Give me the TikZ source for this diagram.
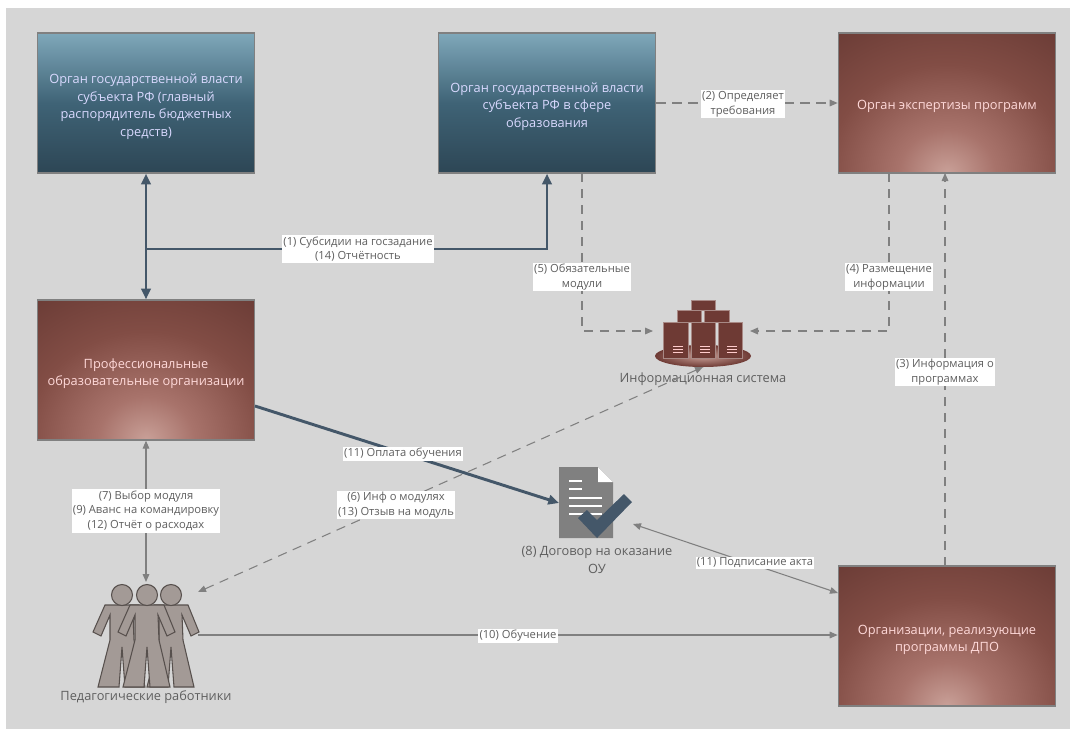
\documentclass[tikz,border=0pt]{standalone}
\usepackage{fontspec}
\setmainfont{Open Sans}
\usetikzlibrary{arrows.meta,calc,shadings}
\definecolor{bggrey}{HTML}{D6D6D6}
\definecolor{slateline}{HTML}{445769}
\definecolor{greyline}{HTML}{808080}
\definecolor{labelgrey}{HTML}{5F5F5F}
\definecolor{iconbrown}{HTML}{6E3A34}
\definecolor{bluetop}{HTML}{7FA8BA}
\definecolor{bluemid}{HTML}{3F6376}
\definecolor{bluelow}{HTML}{2D4655}
\definecolor{glowa}{HTML}{C9A098}
\definecolor{glowb}{HTML}{A8736B}
\definecolor{glowc}{HTML}{824D45}
\definecolor{glowd}{HTML}{6B3C36}
\definecolor{glowe}{HTML}{5E3530}
\definecolor{glowf}{HTML}{4C2B27}
\definecolor{personfill}{HTML}{A39A96}
\definecolor{personline}{HTML}{57504D}
\newcommand{\topgap}{\mbox{}\\[-0.6pt]}
\pgfdeclareverticalshading{bluebox}{100bp}{color(0bp)=(bluelow);color(25bp)=(bluelow);color(50bp)=(bluemid);color(75bp)=(bluetop);color(100bp)=(bluetop)}
\pgfdeclareradialshading{brownglow}{\pgfpoint{0bp}{0bp}}{color(0bp)=(glowa);color(6bp)=(glowb);color(15bp)=(glowc);color(24bp)=(glowd);color(27bp)=(glowe);color(31bp)=(glowf);color(50bp)=(glowf)}
\tikzset{
  orgbox/.style={draw=greyline,line width=1pt,minimum width=163pt,minimum height=105pt,align=center,font=\fontsize{9.6}{13.2}\selectfont},
  blueorg/.style={orgbox,text=white!85!blue,shading=bluebox},
  brownorg/.style={orgbox,text=white!85!red,path picture={\shade[shading=brownglow] (path picture bounding box.south) ellipse (150pt and 136pt);}},
  flowlabel/.style={fill=white,inner sep=1pt,text=labelgrey,align=center,font=\fontsize{8.4}{11}\selectfont},
  caption/.style={text=labelgrey,align=center,font=\fontsize{9.6}{13}\selectfont},
  thickflow/.style={draw=slateline,line width=2.2pt,-{Triangle[length=8pt,width=7pt]}},
  greyflow/.style={draw=greyline,line width=0.8pt,-{Triangle[length=6pt,width=5pt]}},
  dashflow/.style={greyflow,dash pattern=on 7pt off 5pt},
}
\begin{document}
\begin{tikzpicture}[x=0.75pt,y=-0.75pt]
\useasboundingbox (0,0) rectangle (1070,729);
\fill[bggrey] (6,8) rectangle (1070,729);
% organisations
\node[blueorg] (head) at (146,103) {\topgap Орган государственной власти\\субъекта РФ (главный\\распорядитель бюджетных\\средств)};
\node[blueorg] (dept) at (547,103) {\topgap Орган государственной власти\\субъекта РФ в сфере\\образования};
\node[brownorg] (expert) at (947,103) {\topgap Орган экспертизы программ};
\node[brownorg] (school) at (146,370) {\topgap Профессиональные\\образовательные организации};
\node[brownorg] (dpo) at (947,636) {\topgap Организации, реализующие\\программы ДПО};
% information system
\shade[inner color=glowa,outer color=iconbrown] (703,356) ellipse (48 and 11);
\foreach \x/\y/\w/\h in {691/300/24/10,677/310/24/12,704/310/25/12,663/322/25/36,691/322/24/36,718/322/24/36}
  \draw[fill=iconbrown,draw=iconbrown!60!white] (\x,\y) rectangle ++(\w,\h);
\foreach \x in {678,705,732}
  \foreach \y in {346,349,352}
    \draw[white!80!red,line width=0.7pt] (\x-5,\y) -- (\x+5,\y);
\node[caption] (infocap) at (703,379) {Информационная система};
\coordinate (infoleft) at (653,331);
\coordinate (inforight) at (750,331);
\coordinate (infobottom) at (703,367);
% contract
\fill[greyline] (559,467) -- (598,467) -- (613,482) -- (613,538) -- (559,538) -- cycle;
\fill[white] (598,467) -- (613,482) -- (598,482) -- cycle;
\foreach \y/\e in {481/582,489/582,498/602,506/602,514/602}
  \draw[white,line width=1pt] (569,\y) -- (\e,\y);
\fill[slateline] (578,518) -- (587,510) -- (597,520) -- (624,494) -- (632,502) -- (597,538) -- cycle;
\node[caption] (contractcap) at (597,560) {(8) Договор на оказание\\ОУ};
\coordinate (contractleft) at (559,503);
\coordinate (contractright) at (633,524);
% teachers
\foreach \c in {122,171,147}
{
\draw[fill=personfill,draw=personline,line width=0.8pt,xshift=\c*0.75pt]
  (-17,605) -- (17,605) -- (28,632) -- (20,636) -- (11,615) -- (12,640) -- (23,687) -- (3,687) -- (0,647) -- (-3,687) -- (-24,687) -- (-12,640) -- (-12,615) -- (-21,636) -- (-29,632) -- cycle;
\draw[fill=personfill,draw=personline,line width=0.8pt] (\c,595) circle (10.5);
}
\node[caption] (staffcap) at (146,697) {Педагогические работники};
\coordinate (staffup) at (146,582);
\coordinate (staffdiag) at (198,592);
\coordinate (staffright) at (198,635);
% flows
\draw[thickflow,{Triangle[length=8pt,width=7pt]}-{Triangle[length=8pt,width=7pt]}] (head.south) -- (school.north);
\coordinate (branch) at (146,249);
\draw[thickflow] (branch) -- (dept.south |- branch) -- (dept.south);
\node[flowlabel] (lblgrant) at (358,249) {(1) Субсидии на госзадание\\(14) Отчётность};
\draw[dashflow] (dept.east) -- (expert.west);
\node[flowlabel] (lblreq) at (743,104) {(2) Определяет\\требования};
\draw[dashflow] (582,173) -- (582,331) -- (infoleft);
\node[flowlabel] (lblmod) at (582,277) {(5) Обязательные\\модули};
\draw[dashflow] (889,173) -- (889,331) -- (inforight);
\node[flowlabel] (lblplace) at (889,277) {(4) Размещение\\информации};
\draw[dashflow] (945,566) -- (945,173);
\node[flowlabel] (lblinfo) at (945,372) {(3) Информация о\\программах};
\draw[thickflow] (255,406) -- (contractleft);
\node[flowlabel] (lblpay) at (403,454) {(11) Оплата обучения};
\draw[dashflow,{Triangle[length=6pt,width=5pt]}-{Triangle[length=6pt,width=5pt]}] (staffdiag) -- (infobottom);
\node[flowlabel] (lblmods) at (396,505) {(6) Инф о модулях\\(13) Отзыв на модуль};
\draw[greyflow,{Triangle[length=6pt,width=5pt]}-{Triangle[length=6pt,width=5pt]}] (school.south) -- (staffup);
\node[flowlabel] (lblchoice) at (146,511) {(7) Выбор модуля\\(9) Аванс на командировку\\(12) Отчёт о расходах};
\draw[greyflow,{Triangle[length=6pt,width=5pt]}-{Triangle[length=6pt,width=5pt]}] (contractright) -- (838,593);
\node[flowlabel] (lblact) at (755,563) {(11) Подписание акта};
\draw[greyflow] (staffright) -- (dpo.west |- staffright);
\node[flowlabel] (lblteach) at (518,636) {(10) Обучение};
\end{tikzpicture}
\end{document}
